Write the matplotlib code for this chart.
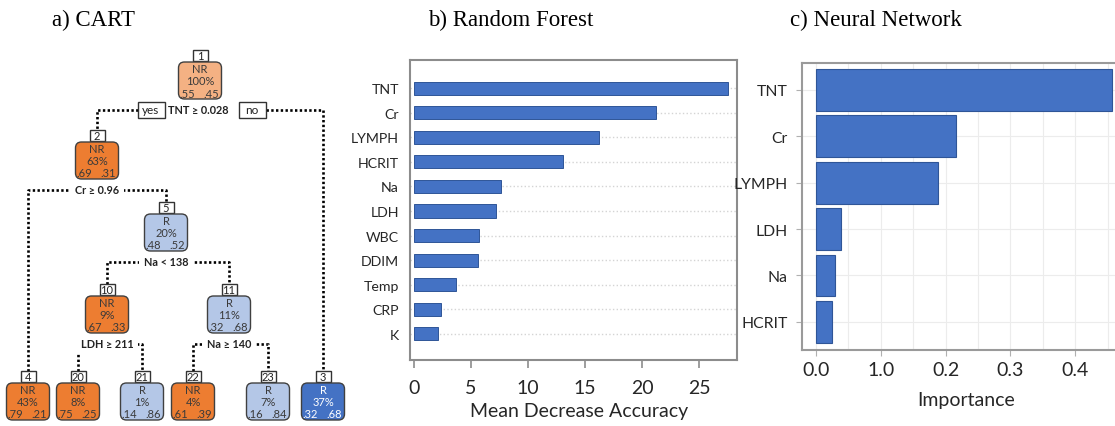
import matplotlib
matplotlib.use("Agg")
import matplotlib.pyplot as plt
from matplotlib.patches import FancyBboxPatch, Rectangle
from matplotlib.ticker import MultipleLocator
import numpy as np

# =========================================================
# DATA
# =========================================================
# a) CART tree (rpart node numbering: children of k are 2k and 2k+1)
node_ids = [1, 2, 3, 4, 5, 10, 11, 20, 21, 22, 23]
node_class = ["NR", "NR", "R", "NR", "R", "NR", "R", "NR", "R", "NR", "R"]
node_pct = [100, 63, 37, 43, 20, 9, 11, 8, 1, 4, 7]
node_p_nr = [".55", ".69", ".32", ".79", ".48", ".67", ".32", ".75", ".14", ".61", ".16"]
node_p_r = [".45", ".31", ".68", ".21", ".52", ".33", ".68", ".25", ".86", ".39", ".84"]
split_nodes = [1, 2, 5, 10, 11]
split_labels = ["TNT \u2265 0.028", "Cr \u2265 0.96", "Na < 138", "LDH \u2265 211", "Na \u2265 140"]

# b) Random Forest
rf_features = ["TNT", "Cr", "LYMPH", "HCRIT", "Na", "LDH", "WBC", "DDIM", "Temp", "CRP", "K"]
rf_values = [27.5, 21.2, 16.2, 13.1, 7.6, 7.2, 5.7, 5.6, 3.7, 2.4, 2.1]
rf_ticks = [0, 5, 10, 15, 20, 25]

# c) Neural Network
nn_features = ["TNT", "Cr", "LYMPH", "LDH", "Na", "HCRIT"]
nn_values = [0.456, 0.216, 0.188, 0.039, 0.029, 0.025]
nn_ticks = [0.0, 0.1, 0.2, 0.3, 0.4]
nn_tick_labels = ["0.0", "1.0", "0.2", "0.3", "0.4"]

# =========================================================
# STYLE
# =========================================================
BLUE = "#4472C4"
BAR_EDGE = "#2F5597"
SANS = ["Lato", "DejaVu Sans"]
TREE_FONT = ["Lato", "DejaVu Sans"]
SERIF = ["Liberation Serif", "DejaVu Serif"]
TXT = "#262626"

fig = plt.figure(figsize=(11.15, 4.27), dpi=100)
W, H = 1115, 427


def px_axes(left, top, right, bottom):
    return fig.add_axes([left / W, 1 - bottom / H, (right - left) / W, (bottom - top) / H])


# titles
fig.text(93 / W, 1 - 20 / H, "a) CART", family=SERIF, fontsize=16.5, ha="center", va="center")
fig.text(511 / W, 1 - 20 / H, "b) Random Forest", family=SERIF, fontsize=16.5, ha="center", va="center")
fig.text(876 / W, 1 - 20 / H, "c) Neural Network", family=SERIF, fontsize=16.5, ha="center", va="center")

# =========================================================
# a) CART TREE
# =========================================================
ax_t = fig.add_axes([0, 0, 360 / W, 1])
ax_t.set_xlim(0, 360)
ax_t.set_ylim(H, 0)
ax_t.axis("off")

# layout (pixel units inside the tree panel)
node_x = {1: 200, 2: 97, 5: 166, 10: 107, 11: 229,
          4: 28, 20: 78, 21: 142, 22: 193, 23: 268, 3: 323}
node_top = {1: 51, 2: 131, 5: 203, 10: 285, 11: 285,
            4: 372, 20: 372, 21: 372, 22: 372, 23: 372, 3: 372}
fills = {1: "#F4B183", 2: "#ED7D31", 5: "#B4C7E7", 10: "#ED7D31", 11: "#B4C7E7",
         4: "#ED7D31", 20: "#ED7D31", 21: "#B4C7E7", 22: "#ED7D31", 23: "#B4C7E7",
         3: BLUE}
NUM_W, NUM_H = 15, 11
BOX_W, BOX_H = 43, 37
dot_style = dict(color="black", lw=1.9, linestyle=(0, (0.9, 0.9)), solid_capstyle="butt",
                 zorder=1)

info = {n: (c, p, a, b) for n, c, p, a, b in
        zip(node_ids, node_class, node_pct, node_p_nr, node_p_r)}

for n in node_ids:
    x = node_x[n]
    y0 = node_top[n]
    cls, pct, pa, pb = info[n]
    # node number box
    ax_t.add_patch(Rectangle((x - NUM_W / 2, y0), NUM_W, NUM_H, facecolor="white",
                             edgecolor="#333333", lw=1, zorder=4))
    ax_t.text(x, y0 + NUM_H / 2 + 0.3, str(n), family=TREE_FONT, fontsize=8,
              ha="center", va="center", color="#222222", zorder=5)
    # node box
    by = y0 + NUM_H + 1
    ax_t.add_patch(FancyBboxPatch((x - BOX_W / 2, by), BOX_W, BOX_H,
                                  boxstyle="round,pad=0,rounding_size=6",
                                  facecolor=fills[n], edgecolor="#404040", lw=1, zorder=4))
    tc = "white" if n == 3 else "#3a3a3a"
    fs = 8
    ax_t.text(x, by + 6.5, cls, family=TREE_FONT, fontsize=fs, ha="center", va="center",
              color=tc, zorder=5)
    ax_t.text(x, by + 18.5, f"{pct}%", family=TREE_FONT, fontsize=fs, ha="center",
              va="center", color=tc, zorder=5)
    ax_t.text(x - 13, by + 31, pa, family=TREE_FONT, fontsize=fs, ha="center",
              va="center", color=tc, zorder=5)
    ax_t.text(x + 11, by + 31, pb, family=TREE_FONT, fontsize=fs, ha="center",
              va="center", color=tc, zorder=5)

for n, lab in zip(split_nodes, split_labels):
    x = node_x[n]
    sy = node_top[n] + NUM_H + 1 + BOX_H + 10.5
    lx, rx = node_x[2 * n], node_x[2 * n + 1]
    if n == 1:
        # yes / no boxes at the root
        ax_t.text(x - 2, sy, lab, family=TREE_FONT, fontsize=7.8, fontweight="bold",
                  ha="center", va="center", color="#222222", zorder=3)
        for cx, word in [(x - 49, "yes"), (x + 52, "no")]:
            ax_t.add_patch(Rectangle((cx - 13.5, sy - 8), 27, 16, facecolor="white",
                                     edgecolor="#333333", lw=1, zorder=3))
            ax_t.text(cx, sy, word, family=TREE_FONT, fontsize=8.5, ha="center",
                      va="center", color="#222222", zorder=4)
        ax_t.plot([x - 62.5, lx, lx], [sy, sy, node_top[2 * n]], **dot_style)
        ax_t.plot([x + 65.5, rx, rx], [sy, sy, node_top[2 * n + 1]], **dot_style)
    else:
        ax_t.text(x, sy, lab, family=TREE_FONT, fontsize=7.8, fontweight="bold",
                  ha="center", va="center", color="#222222", zorder=3,
                  bbox=dict(boxstyle="square,pad=0.45", facecolor="white", edgecolor="none"))
        ax_t.plot([lx, lx, rx, rx], [node_top[2 * n], sy, sy, node_top[2 * n + 1]],
                  **dot_style)

# =========================================================
# b) RANDOM FOREST
# =========================================================
ax_b = px_axes(410, 61, 737, 361)
yb = np.arange(len(rf_features))
ax_b.barh(yb, rf_values, height=0.53, color=BLUE, edgecolor=BAR_EDGE, lw=0.7, zorder=3)
ax_b.set_ylim(len(rf_features) - 1 + 1.06, -1.14)
ax_b.set_xlim(-0.35, 28.33)
ax_b.set_yticks(yb)
ax_b.set_yticklabels(rf_features, family=SANS, fontsize=10.2, color=TXT)
ax_b.set_xticks(rf_ticks)
ax_b.set_xticklabels([str(t) for t in rf_ticks], family=SANS, fontsize=14, color=TXT)
ax_b.tick_params(axis="y", length=0, pad=8)
ax_b.tick_params(axis="x", length=6, width=1.2, color="#8c8c8c", pad=8)
ax_b.grid(axis="y", color="#d4d4d4", linestyle=":", lw=1, zorder=0)
ax_b.set_xlabel("Mean Decrease Accuracy", family=SANS, fontsize=14, color=TXT)
ax_b.xaxis.set_label_coords(0.518, -0.14)
for s in ax_b.spines.values():
    s.set_color("#8c8c8c")
    s.set_linewidth(1.5)

# =========================================================
# c) NEURAL NETWORK
# =========================================================
ax_c = px_axes(801.7, 64, 1118, 350.7)
yc = np.arange(len(nn_features))
ax_c.barh(yc, nn_values, height=0.9, color=BLUE, edgecolor=BAR_EDGE, lw=0.8, zorder=3)
ax_c.set_ylim(len(nn_features) - 1 + 0.6, -0.58)
ax_c.set_xlim(-0.022, 0.466)
ax_c.set_yticks(yc)
ax_c.set_yticklabels(nn_features, family=SANS, fontsize=11.3, color=TXT)
ax_c.set_xticks(nn_ticks)
ax_c.set_xticklabels(nn_tick_labels, family=SANS, fontsize=14, color=TXT)
ax_c.xaxis.set_minor_locator(MultipleLocator(0.05))
ax_c.tick_params(axis="both", which="major", length=4, width=0.8, color="#b0b0b0", pad=4)
ax_c.tick_params(axis="y", which="major", pad=6)
ax_c.tick_params(axis="x", which="minor", length=0)
ax_c.grid(axis="x", which="both", color="#ececec", lw=0.8, zorder=0)
ax_c.grid(axis="y", which="major", color="#ececec", lw=0.8, zorder=0)
ax_c.set_xlabel("Importance", family=SANS, fontsize=14, color=TXT)
ax_c.xaxis.set_label_coords(0.519, -0.145)
for s in ax_c.spines.values():
    s.set_color("#9a9a9a")
    s.set_linewidth(1.5)

fig.savefig("out.png", dpi=100)
plt.close(fig)
